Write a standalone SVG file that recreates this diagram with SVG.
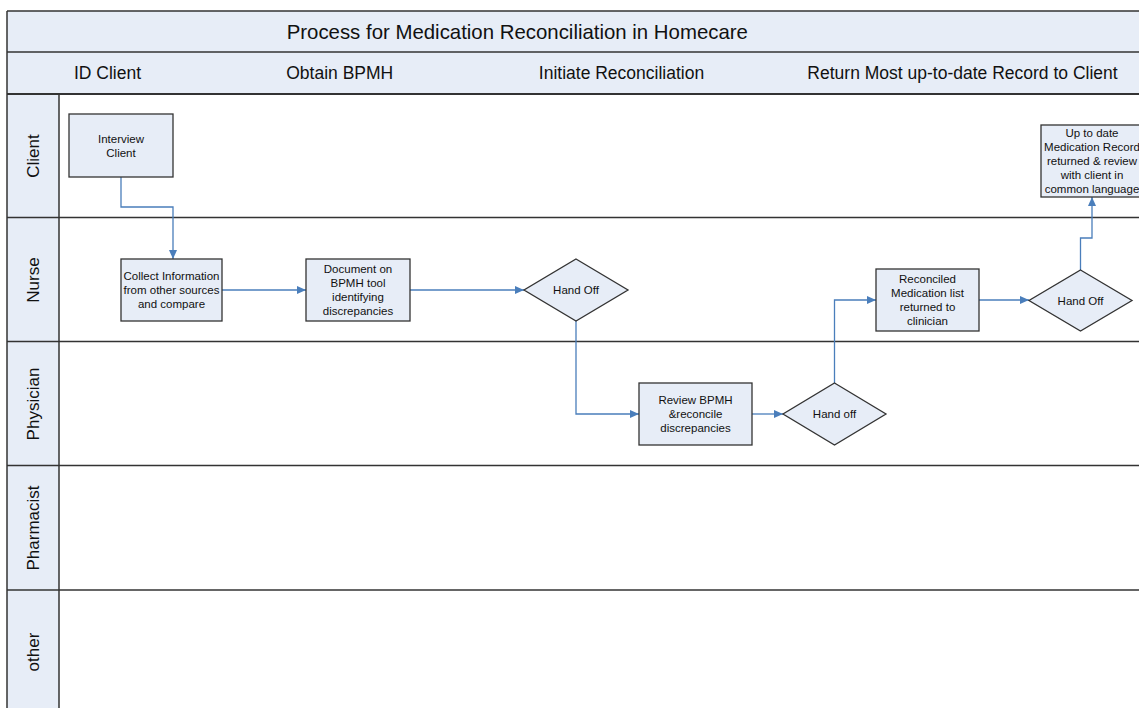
<svg xmlns="http://www.w3.org/2000/svg" width="1139" height="708" viewBox="0 0 1139 708">
<style>
.hdr{fill:#E7EDF7;stroke:none}
.grid{stroke:#333;stroke-width:1.5;fill:none}
.node{fill:#E7EDF7;stroke:#333;stroke-width:1.3}
.t{font-family:"Liberation Sans",Arial,sans-serif;fill:#111;text-anchor:middle;dominant-baseline:central}
.nt{font-size:11.5px}
.ph{font-size:17.5px}
.ln{font-size:17px}
.title{font-size:20.4px}
.conn{fill:none;stroke:#4A7EBB;stroke-width:1.3}
</style>
<defs>
<marker id="arr" markerUnits="userSpaceOnUse" markerWidth="10" markerHeight="9" refX="9" refY="4" orient="auto">
<path d="M0,0 L9,4 L0,8 z" fill="#4A7EBB"/>
</marker>
</defs>
<rect width="1139" height="708" fill="#fff"/>
<g id="frame">
<rect class="hdr" x="7" y="11" width="1140" height="83"/>
<rect class="hdr" x="7" y="94" width="52" height="620"/>
<line class="grid" x1="7" y1="11" x2="1139" y2="11"/>
<line class="grid" x1="7" y1="52" x2="1139" y2="52"/>
<line class="grid" x1="7" y1="94" x2="1139" y2="94" style="stroke-width:2"/>
<line class="grid" x1="7" y1="217.5" x2="1139" y2="217.5"/>
<line class="grid" x1="7" y1="341.5" x2="1139" y2="341.5"/>
<line class="grid" x1="7" y1="465.5" x2="1139" y2="465.5"/>
<line class="grid" x1="7" y1="590" x2="1139" y2="590"/>
<line class="grid" x1="7" y1="11" x2="7" y2="708"/>
<line class="grid" x1="59" y1="94" x2="59" y2="708"/>
<text class="t title" x="517.3" y="31.5">Process for Medication Reconciliation in Homecare</text>
<text class="t ph" x="107.5" y="73">ID Client</text>
<text class="t ph" x="339.7" y="73">Obtain BPMH</text>
<text class="t ph" x="621.5" y="73">Initiate Reconciliation</text>
<text class="t ph" x="962.5" y="73">Return Most up-to-date Record to Client</text>
<text class="t ln" transform="translate(33,156) rotate(-90)">Client</text>
<text class="t ln" transform="translate(33,280) rotate(-90)">Nurse</text>
<text class="t ln" transform="translate(33,404) rotate(-90)">Physician</text>
<text class="t ln" transform="translate(33,528) rotate(-90)">Pharmacist</text>
<text class="t ln" transform="translate(33,652) rotate(-90)">other</text>
</g>
<g id="connectors">
<polyline class="conn" points="121,177 121,207 173,207 173,259" marker-end="url(#arr)"/>
<line class="conn" x1="222" y1="290" x2="306" y2="290" marker-end="url(#arr)"/>
<line class="conn" x1="410" y1="290" x2="524" y2="290" marker-end="url(#arr)"/>
<polyline class="conn" points="576,321 576,414 639,414" marker-end="url(#arr)"/>
<line class="conn" x1="752" y1="414" x2="783" y2="414" marker-end="url(#arr)"/>
<polyline class="conn" points="834.5,383 834.5,300 876,300" marker-end="url(#arr)"/>
<line class="conn" x1="979" y1="300" x2="1029" y2="300" marker-end="url(#arr)"/>
<polyline class="conn" points="1080.5,270 1080.5,238 1092,238 1092,197" marker-end="url(#arr)"/>
</g>
<g id="interview-client">
<rect class="node" x="69" y="114" width="104" height="63"/>
<text class="t nt" x="121" y="138.5">Interview</text>
<text class="t nt" x="121" y="152.5">Client</text>
</g>
<g id="collect-info">
<rect class="node" x="121" y="259" width="101" height="62"/>
<text class="t nt" x="171.5" y="276">Collect Information</text>
<text class="t nt" x="171.5" y="290">from other sources</text>
<text class="t nt" x="171.5" y="304">and compare</text>
</g>
<g id="document-bpmh">
<rect class="node" x="306" y="259" width="104" height="62"/>
<text class="t nt" x="358" y="269">Document on</text>
<text class="t nt" x="358" y="283">BPMH tool</text>
<text class="t nt" x="358" y="297">identifying</text>
<text class="t nt" x="358" y="311">discrepancies</text>
</g>
<g id="handoff-1">
<polygon class="node" points="576,259 628,290 576,321 524,290"/>
<text class="t nt" x="576" y="290">Hand Off</text>
</g>
<g id="review-bpmh">
<rect class="node" x="639" y="383" width="113" height="62"/>
<text class="t nt" x="695.5" y="400">Review BPMH</text>
<text class="t nt" x="695.5" y="414">&amp;reconcile</text>
<text class="t nt" x="695.5" y="428">discrepancies</text>
</g>
<g id="handoff-2">
<polygon class="node" points="834.5,383 886,414 834.5,445 783,414"/>
<text class="t nt" x="834.5" y="414">Hand off</text>
</g>
<g id="reconciled-list">
<rect class="node" x="876" y="269" width="103" height="62"/>
<text class="t nt" x="927.5" y="279">Reconciled</text>
<text class="t nt" x="927.5" y="293">Medication list</text>
<text class="t nt" x="927.5" y="307">returned to</text>
<text class="t nt" x="927.5" y="321">clinician</text>
</g>
<g id="handoff-3">
<polygon class="node" points="1080.5,270 1132,300.5 1080.5,331 1029,300.5"/>
<text class="t nt" x="1080.5" y="300.5">Hand Off</text>
</g>
<g id="record-returned">
<rect class="node" x="1041" y="125" width="102" height="72"/>
<text class="t nt" x="1092" y="133">Up to date</text>
<text class="t nt" x="1092" y="147">Medication Record</text>
<text class="t nt" x="1092" y="161">returned &amp; review</text>
<text class="t nt" x="1092" y="175">with client in</text>
<text class="t nt" x="1092" y="189">common language</text>
</g>
</svg>
